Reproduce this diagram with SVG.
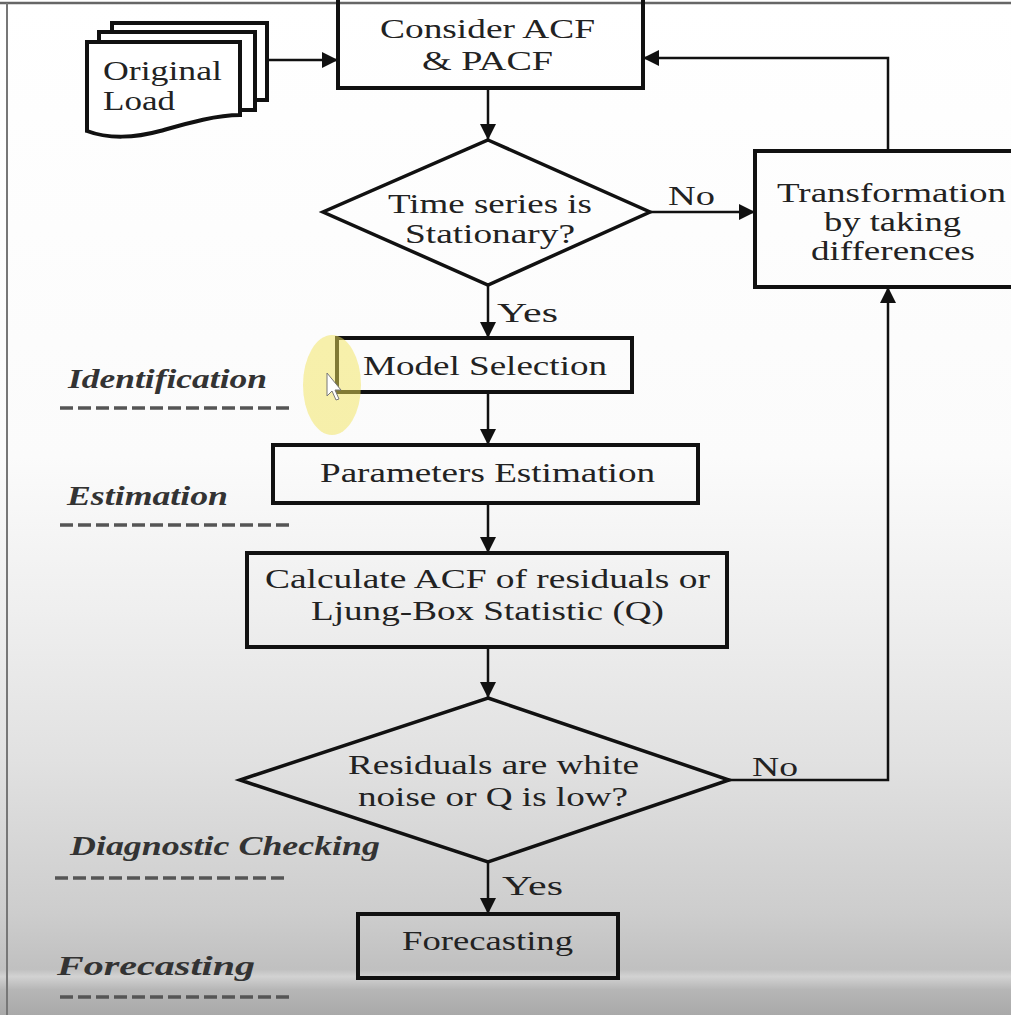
<svg xmlns="http://www.w3.org/2000/svg" width="1011" height="1015" viewBox="0 0 1011 1015">
<defs>
<linearGradient id="bg" x1="0" y1="0" x2="0" y2="1">
<stop offset="0" stop-color="#ffffff"/>
<stop offset="0.45" stop-color="#fbfbfb"/>
<stop offset="0.6" stop-color="#efefef"/>
<stop offset="0.75" stop-color="#e1e1e1"/>
<stop offset="0.9" stop-color="#cdcdcd"/>
<stop offset="0.955" stop-color="#c0c0c0"/>
<stop offset="0.962" stop-color="#d2d2d2"/>
<stop offset="0.975" stop-color="#b6b6b6"/>
<stop offset="1" stop-color="#a9a9a9"/>
</linearGradient>
<marker id="ah" markerUnits="userSpaceOnUse" markerWidth="18" markerHeight="18" refX="16" refY="8" orient="auto">
<path d="M0,0 L16,8 L0,16 z" fill="#111"/>
</marker>
</defs>
<style>
.box{fill:none;stroke:#111;stroke-width:4}
.dia{fill:none;stroke:#111;stroke-width:3.5}
.conn{fill:none;stroke:#111;stroke-width:2.5}
.t{font-family:"Liberation Serif","Times New Roman",serif;font-size:27px;fill:#222}
.lab{font-family:"Liberation Serif","Times New Roman",serif;font-size:27px;font-style:italic;font-weight:bold;fill:#333}
.dash{stroke:#555;stroke-width:3.5;stroke-dasharray:13 5}
</style>
<rect x="0" y="0" width="1011" height="1015" fill="url(#bg)"/>
<line x1="0" y1="3" x2="1011" y2="3" stroke="#666" stroke-width="2.5"/>
<line x1="7" y1="3" x2="7" y2="1015" stroke="#777" stroke-width="2"/>

<g id="stage-labels">
<text class="lab" x="68" y="388" textLength="199" lengthAdjust="spacingAndGlyphs">Identification</text>
<line class="dash" x1="60" y1="408" x2="292" y2="408"/>
<text class="lab" x="67" y="505" textLength="161" lengthAdjust="spacingAndGlyphs">Estimation</text>
<line class="dash" x1="60" y1="525" x2="292" y2="525"/>
<text class="lab" x="70" y="855" textLength="310" lengthAdjust="spacingAndGlyphs">Diagnostic Checking</text>
<line class="dash" x1="55" y1="878" x2="287" y2="878"/>
<text class="lab" x="57" y="975" textLength="198" lengthAdjust="spacingAndGlyphs">Forecasting</text>
<line class="dash" x1="60" y1="997" x2="290" y2="997"/>
</g>

<g id="connectors">
<line class="conn" x1="267" y1="60" x2="338" y2="60" marker-end="url(#ah)"/>
<line class="conn" x1="488" y1="88" x2="488" y2="140" marker-end="url(#ah)"/>
<line class="conn" x1="650" y1="212" x2="755" y2="212" marker-end="url(#ah)"/>
<polyline class="conn" points="888,150 888,58 643,58" marker-end="url(#ah)"/>
<line class="conn" x1="488" y1="285" x2="488" y2="338" marker-end="url(#ah)"/>
<line class="conn" x1="488" y1="392" x2="488" y2="445" marker-end="url(#ah)"/>
<line class="conn" x1="488" y1="503" x2="488" y2="553" marker-end="url(#ah)"/>
<line class="conn" x1="488" y1="647" x2="488" y2="698" marker-end="url(#ah)"/>
<polyline class="conn" points="729,780 888,780 888,287" marker-end="url(#ah)"/>
<line class="conn" x1="488" y1="862" x2="488" y2="914" marker-end="url(#ah)"/>
<text class="t" x="668" y="205" textLength="47" lengthAdjust="spacingAndGlyphs">No</text>
<text class="t" x="497" y="322" textLength="61" lengthAdjust="spacingAndGlyphs">Yes</text>
<text class="t" x="752" y="776" textLength="46" lengthAdjust="spacingAndGlyphs">No</text>
<text class="t" x="502" y="895" textLength="61" lengthAdjust="spacingAndGlyphs">Yes</text>
</g>

<g id="original-load">
<rect x="112" y="23" width="155" height="77" fill="#fff" stroke="#111" stroke-width="4"/>
<rect x="99" y="32" width="156" height="78" fill="#fff" stroke="#111" stroke-width="4"/>
<path d="M87,42 H240 V115 C215,115 185,124 160,131 C135,138 108,139 87,131 Z" fill="#fff" stroke="#111" stroke-width="4"/>
<text class="t" x="103" y="80" textLength="119" lengthAdjust="spacingAndGlyphs">Original</text>
<text class="t" x="103" y="110" textLength="72" lengthAdjust="spacingAndGlyphs">Load</text>
</g>

<g id="consider-acf">
<rect class="box" x="338" y="-2" width="305" height="90"/>
<text class="t" x="380" y="38" textLength="215" lengthAdjust="spacingAndGlyphs">Consider ACF</text>
<text class="t" x="422" y="70" textLength="131" lengthAdjust="spacingAndGlyphs">&amp; PACF</text>
</g>

<g id="stationary-decision">
<polygon class="dia" points="488,140 650,212 488,285 323,212"/>
<text class="t" x="388" y="213" textLength="204" lengthAdjust="spacingAndGlyphs">Time series is</text>
<text class="t" x="405" y="243" textLength="170" lengthAdjust="spacingAndGlyphs">Stationary?</text>
</g>

<g id="transformation">
<rect class="box" x="755" y="151" width="270" height="136"/>
<text class="t" x="777" y="202" textLength="229" lengthAdjust="spacingAndGlyphs">Transformation</text>
<text class="t" x="824" y="231" textLength="137" lengthAdjust="spacingAndGlyphs">by taking</text>
<text class="t" x="811" y="260" textLength="164" lengthAdjust="spacingAndGlyphs">differences</text>
</g>

<g id="model-selection">
<rect class="box" x="337" y="338" width="295" height="54"/>
<text class="t" x="363" y="375" textLength="244" lengthAdjust="spacingAndGlyphs">Model Selection</text>
</g>

<g id="parameters-estimation">
<rect class="box" x="273" y="445" width="425" height="58"/>
<text class="t" x="320" y="482" textLength="335" lengthAdjust="spacingAndGlyphs">Parameters Estimation</text>
</g>

<g id="calculate-acf">
<rect class="box" x="247" y="553" width="480" height="94"/>
<text class="t" x="265" y="588" textLength="445" lengthAdjust="spacingAndGlyphs">Calculate ACF of residuals or</text>
<text class="t" x="311" y="620" textLength="353" lengthAdjust="spacingAndGlyphs">Ljung-Box Statistic (Q)</text>
</g>

<g id="residuals-decision">
<polygon class="dia" points="488,698 729,780 488,862 240,780"/>
<text class="t" x="348" y="774" textLength="291" lengthAdjust="spacingAndGlyphs">Residuals are white</text>
<text class="t" x="358" y="806" textLength="270" lengthAdjust="spacingAndGlyphs">noise or Q is low?</text>
</g>

<g id="forecasting">
<rect class="box" x="358" y="914" width="260" height="64"/>
<text class="t" x="402" y="950" textLength="171" lengthAdjust="spacingAndGlyphs">Forecasting</text>
</g>

<g id="cursor-highlight">
<ellipse cx="332" cy="385" rx="29" ry="50" fill="#f2e45a" opacity="0.5"/>
<path d="M327,373 L327,396 L332,391 L336,400 L339,399 L335,390 L341,390 Z" fill="#fff" stroke="#777" stroke-width="1"/>
</g>
</svg>
